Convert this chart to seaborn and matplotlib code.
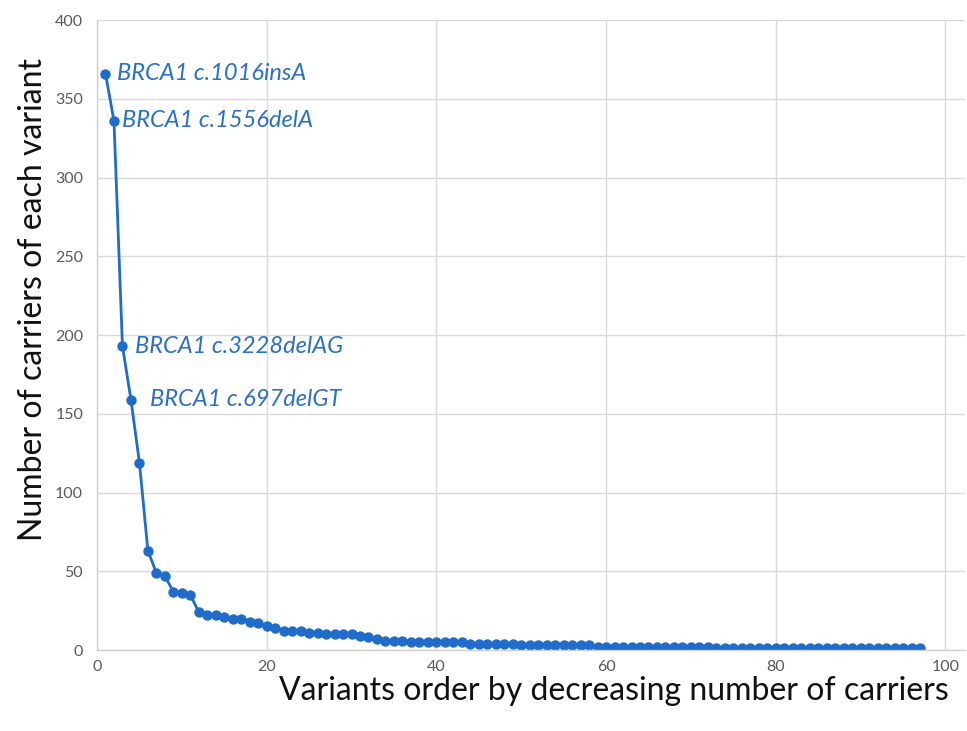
import matplotlib
matplotlib.use("Agg")
import matplotlib.pyplot as plt
import seaborn as sns
import pandas as pd

# ---- data ----
carriers = [366, 336, 193, 159, 119, 63, 49, 47, 37, 36,
            35, 24, 22, 22, 21, 20, 20, 18, 17, 15,
            14, 12, 12, 12, 11, 11, 10, 10, 10, 10,
            9, 8, 7, 6, 6, 6, 5, 5, 5, 5,
            5, 5, 5, 4, 4, 4, 4, 4, 4, 3,
            3, 3, 3, 3, 3, 3, 3, 3, 2, 2,
            2, 2, 2, 2, 2, 2, 2, 2, 2, 2,
            2, 2, 1, 1, 1, 1, 1, 1, 1, 1,
            1, 1, 1, 1, 1, 1, 1, 1, 1, 1,
            1, 1, 1, 1, 1, 1, 1]
order = list(range(1, len(carriers) + 1))
labeled_idx = [1, 2, 3, 4]
labeled_names = ["BRCA1 c.1016insA", "BRCA1 c.1556delA",
                 "BRCA1 c.3228delAG", "BRCA1 c.697delGT"]
label_offsets = [(8, 0), (6, 0), (9, 0), (14, 0)]
xticks = [0, 20, 40, 60, 80, 100]
yticks = [0, 50, 100, 150, 200, 250, 300, 350, 400]

df = pd.DataFrame({"order": order, "carriers": carriers})

sns.set_theme(style="whitegrid")
plt.rcParams["font.family"] = ["Lato", "DejaVu Sans"]

blue = "#1F6CCB"
text_blue = "#2B70C6"

fig = plt.figure(figsize=(9.67, 7.31), dpi=100)
ax = fig.add_axes([0.1003, 0.1108, 0.8976, 0.8618])

sns.lineplot(data=df, x="order", y="carriers", ax=ax, color=blue,
             linewidth=2.0, marker="o", markersize=7.5,
             markeredgewidth=0, markerfacecolor=blue)

ax.set_xlim(0, 102.3)
ax.set_ylim(0, 400)
ax.set_xticks(xticks)
ax.set_yticks(yticks)
ax.grid(True, color="#d9d9d9", linewidth=1.0)
ax.set_axisbelow(True)
for side in ["top", "right"]:
    ax.spines[side].set_visible(False)
for side in ["left", "bottom"]:
    ax.spines[side].set_color("#d0d0d0")
    ax.spines[side].set_linewidth(1.0)
ax.tick_params(axis="both", colors="#595959", labelsize=11.5, length=0)
ax.tick_params(axis="x", pad=7)
ax.tick_params(axis="y", pad=10)

ax.set_xlabel("Variants order by decreasing number of carriers",
              fontsize=23, color="#111111")
ax.xaxis.set_label_coords(0.5957, -0.042, transform=ax.transAxes)
ax.xaxis.label.set_va("top")
ax.set_ylabel("Number of carriers of each variant",
              fontsize=23, color="#111111")
ax.yaxis.set_label_coords(-0.1003 + 26 / 967, 0.5556)
ax.yaxis.label.set_va("center")

for i, name, off in zip(labeled_idx, labeled_names, label_offsets):
    ax.annotate(name, xy=(i, carriers[i - 1]), xytext=off,
                textcoords="offset points", ha="left", va="center",
                fontsize=17, style="italic", color=text_blue)

fig.savefig("out.png", dpi=100)
